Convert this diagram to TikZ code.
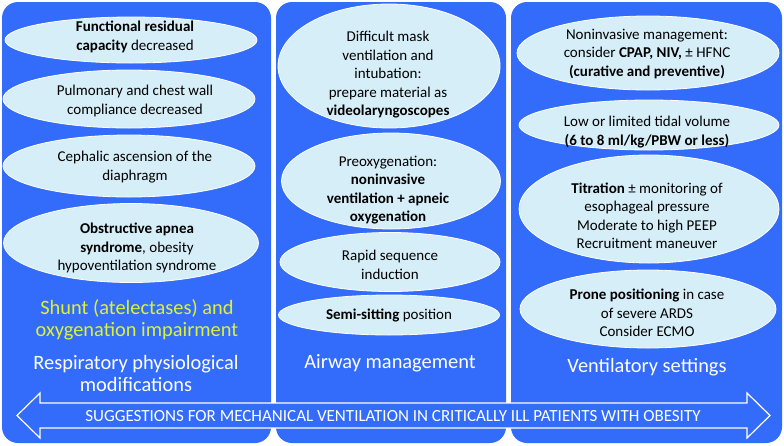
\documentclass[tikz,border=0pt]{standalone}
\usepackage{fontspec}
\setmainfont{Carlito}
\usetikzlibrary{shapes.geometric}
\definecolor{panelblue}{RGB}{51,108,250}
\definecolor{bubfill}{RGB}{214,238,248}
\definecolor{shuntyellow}{RGB}{222,242,50}
\tikzset{
  panel/.style={fill=panelblue, draw=none, rounded corners=16pt},
  bub/.style={ellipse, fill=bubfill, draw=white, line width=0.8pt, inner sep=0pt},
  btxt/.style={align=center, text=black, font=\fontsize{15}{18.5}\selectfont, inner sep=0pt},
  ttl/.style={align=center, text=white, font=\fontsize{20.4}{22}\selectfont, inner sep=0pt},
  ylw/.style={align=center, text=shuntyellow, font=\fontsize{20.4}{22}\selectfont, inner sep=0pt},
}
\begin{document}
\begin{tikzpicture}[x=1pt,y=-1pt]
\useasboundingbox (0,0) rectangle (784,445);
% panels
\path[panel] (2,2) rectangle (271,443);
\path[panel] (276,2) rectangle (506,443);
\path[panel] (511,2) rectangle (782,443);
% column 1
\node[bub, minimum width=252pt, minimum height=46pt] (e1) at (131,40) {};
\node[btxt] (t1) at (135,37) {\textbf{Functional residual}\\\textbf{capacity} decreased};
\node[bub, minimum width=252pt, minimum height=58pt] (e2) at (129,99) {};
\node[btxt] (t2) at (135,101) {Pulmonary and chest wall\\compliance decreased};
\node[bub, minimum width=252pt, minimum height=62pt] (e3) at (129,166) {};
\node[btxt] (t3) at (135,167) {Cephalic ascension of the\\diaphragm};
\node[bub, minimum width=255pt, minimum height=79pt] (e4) at (131,243) {};
\node[btxt] (t4) at (137,248) {\textbf{Obstructive apnea}\\\textbf{syndrome}, obesity\\hypoventilation syndrome};
\node[ylw] (y1) at (137,320) {Shunt (atelectases) and\\oxygenation impairment};
\node[ttl] (h1) at (136,373) {Respiratory physiological\\modifications};
% column 2
\node[bub, minimum width=222pt, minimum height=124pt] (e5) at (389,66) {};
\node[btxt] (t5) at (388,75) {Difficult mask\\ventilation and\\intubation:\\prepare material as\\\textbf{videolaryngoscopes}};
\node[bub, minimum width=219pt, minimum height=96pt] (e6) at (391,181) {};
\node[btxt] (t6) at (388,190) {Preoxygenation:\\\textbf{noninvasive}\\\textbf{ventilation + apneic}\\\textbf{oxygenation}};
\node[bub, minimum width=220pt, minimum height=59pt] (e7) at (390,262) {};
\node[btxt] (t7) at (390,265) {Rapid sequence\\induction};
\node[bub, minimum width=221pt, minimum height=40pt] (e8) at (389,315) {};
\node[btxt] (t8) at (389,315) {\textbf{Semi-sitting} position};
\node[ttl] (h2) at (390,363) {Airway management};
% column 3
\node[bub, minimum width=262pt, minimum height=74pt] (e9) at (648,53) {};
\node[btxt] (t9) at (647,54) {Noninvasive management:\\consider \textbf{CPAP, NIV,} ± HFNC\\\textbf{(curative and preventive)}};
\node[bub, minimum width=260pt, minimum height=50pt] (e10) at (649,125) {};
\node[btxt] (t10) at (647,132) {Low or limited tidal volume\\\textbf{(6 to 8 ml/kg/PBW or less)}};
\node[bub, minimum width=260pt, minimum height=108pt] (e11) at (649,209) {};
\node[btxt] (t11) at (647,216) {\textbf{Titration} ± monitoring of\\esophageal pressure\\Moderate to high PEEP\\Recruitment maneuver};
\node[bub, minimum width=256pt, minimum height=78pt] (e12) at (648,309) {};
\node[btxt] (t12) at (647,313) {\textbf{Prone positioning} in case\\of severe ARDS\\Consider ECMO};
\node[ttl] (h3) at (647,367) {Ventilatory settings};
% arrow
\coordinate (al) at (17,415.5);
\coordinate (ar) at (770,415.5);
\draw[fill=panelblue, draw=white, line width=1.2pt, line join=miter]
  (al) -- (40,393) -- (40,403) -- (747,403) -- (747,393) -- (ar)
  -- (747,438) -- (747,428) -- (40,428) -- (40,438) -- cycle;
\node[text=white, font=\fontsize{17}{18}\selectfont, inner sep=0pt] (arrtxt) at (393,416) {SUGGESTIONS FOR MECHANICAL VENTILATION IN CRITICALLY ILL PATIENTS WITH OBESITY};
\end{tikzpicture}
\end{document}
